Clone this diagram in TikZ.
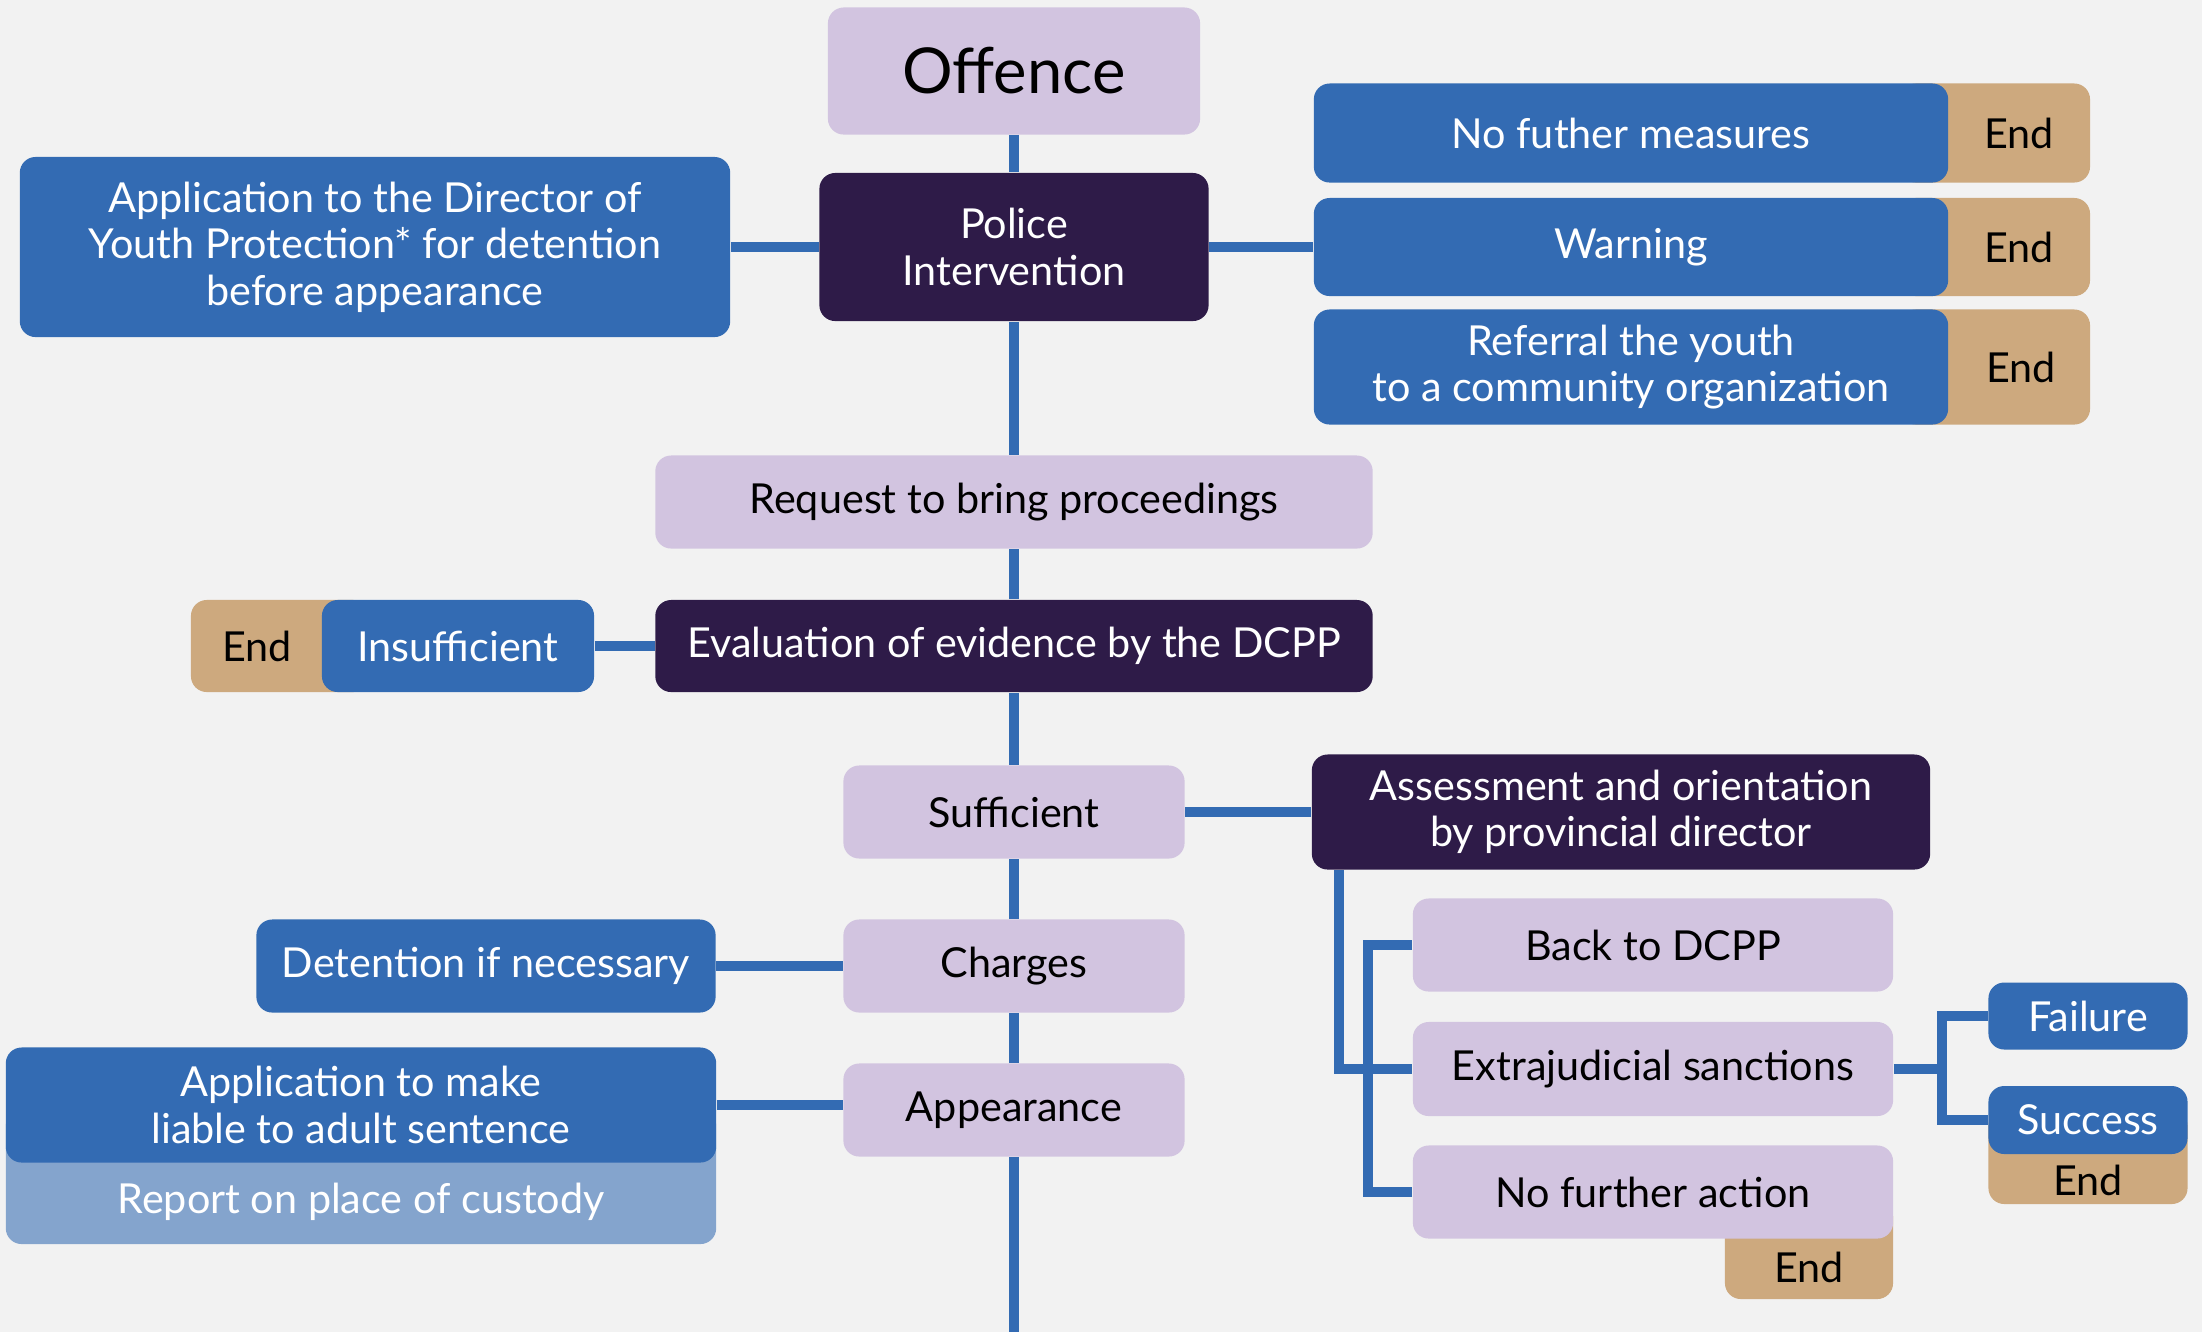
\documentclass[tikz,border=0pt]{standalone}
\usepackage{fontspec}
\setmainfont{Lato}
\begin{document}
\begin{tikzpicture}[
        x=0.01cm,
        y=-0.01cm,
        every node/.style={font=\fontsize{11.75}{13.2}\selectfont},
        mybox/.style={
            rounded corners=4.5pt,
            inner sep=2pt,
            align=center
          },
        mylilac/.style={mybox, fill=lilaccolor, text=black},
        myblue/.style={mybox, fill=bluecolor, text=white},
        mydark/.style={mybox, fill=darkcolor, text=white},
        myend/.style={mybox, fill=tancolor, label={[#1]center:End}},
        myend/.default={},
        myline/.style={draw=bluecolor, line width=2.8pt}]
        % Define colors
        \definecolor{bgcolor}{HTML}{F2F2F2}
        \definecolor{lilaccolor}{HTML}{D2C4E0}
        \definecolor{darkcolor}{HTML}{2E1B48}
        \definecolor{bluecolor}{HTML}{336BB3}
        \definecolor{tancolor}{HTML}{CDA97E}
        \definecolor{palecolor}{HTML}{84A4CD}

        % Draw background
        \useasboundingbox (0,0) rectangle (2202,1332);
        \fill[bgcolor] (0,0) rectangle (2202,1332);
        \coordinate (spineend) at (1014,1332);

        % End tags and the custody report sit behind their boxes
        \node[myend={xshift=0.24cm}, minimum width=1.9cm, minimum height=0.99cm] (nfmend) at (1995,133) {};
        \node[myend={xshift=0.24cm}, minimum width=1.9cm, minimum height=0.98cm] (warnend) at (1995,247) {};
        \node[myend={xshift=0.26cm}, minimum width=1.9cm, minimum height=1.15cm] (referend) at (1995,367) {};
        \node[myend={xshift=-0.23cm}, minimum width=1.78cm, minimum height=0.92cm] (insufend) at (280,646) {};
        \node[myend={yshift=-0.17cm}, minimum width=1.68cm, minimum height=0.98cm] (nfaend) at (1809,1250) {};
        \node[myend={yshift=-0.23cm}, minimum width=1.99cm, minimum height=0.94cm] (succend) at (2088,1157) {};
        \node[mybox, fill=palecolor, minimum width=7.1cm, minimum height=1.34cm,
            label={[text=white, yshift=-0.25cm]center:Report on place of custody}] (custody) at (361,1177) {};

        % Draw main column
        \node[mylilac, minimum width=3.72cm, minimum height=1.27cm, font=\fontsize{18}{21}\selectfont] (offence) at (1014,71) {Offence};
        \node[mydark, minimum width=3.89cm, minimum height=1.48cm] (police) at (1014,247) {Police\\Intervention};
        \node[mylilac, minimum width=7.17cm, minimum height=0.93cm] (request) at (1014,502) {Request to bring proceedings};
        \node[mydark, minimum width=7.17cm, minimum height=0.92cm] (eval) at (1014,646) {Evaluation of evidence by the DCPP};
        \node[mylilac, minimum width=3.41cm, minimum height=0.93cm] (suff) at (1014,812) {Sufficient};
        \node[mylilac, minimum width=3.41cm, minimum height=0.93cm] (charges) at (1014,966) {Charges};
        \node[mylilac, minimum width=3.41cm, minimum height=0.93cm] (appear) at (1014,1110) {Appearance};

        % Draw left side
        \node[myblue, minimum width=7.1cm, minimum height=1.8cm] (director) at (375,247) {Application to the Director of\\Youth Protection* for detention\\before appearance};
        \node[myblue, minimum width=2.72cm, minimum height=0.92cm] (insuf) at (458,646) {Insufficient};
        \node[myblue, minimum width=4.59cm, minimum height=0.93cm] (detent) at (486,966) {Detention if necessary};
        \node[myblue, minimum width=7.1cm, minimum height=1.15cm] (adult) at (361,1105) {Application to make\\liable to adult sentence};

        % Draw right side
        \node[myblue, minimum width=6.34cm, minimum height=0.99cm] (nfm) at (1631,133) {No futher measures};
        \node[myblue, minimum width=6.34cm, minimum height=0.98cm] (warn) at (1631,247) {Warning};
        \node[myblue, minimum width=6.34cm, minimum height=1.15cm] (refer) at (1631,367) {Referral the youth\\to a community organization};
        \node[mydark, minimum width=6.18cm, minimum height=1.15cm] (assess) at (1621,812) {Assessment and orientation\\by provincial director};
        \node[mylilac, minimum width=4.8cm, minimum height=0.93cm] (back) at (1653,945) {Back to DCPP};
        \node[mylilac, minimum width=4.8cm, minimum height=0.94cm] (extra) at (1653,1069) {Extrajudicial sanctions};
        \node[mylilac, minimum width=4.8cm, minimum height=0.93cm] (nfa) at (1653,1192) {No further action};
        \node[myblue, minimum width=1.99cm, minimum height=0.67cm] (fail) at (2088,1016) {Failure};
        \node[myblue, minimum width=1.99cm, minimum height=0.68cm] (succ) at (2088,1120) {Success};

        % Draw connectors
        \draw[myline] (offence) -- (police);
        \draw[myline] (police) -- (request);
        \draw[myline] (request) -- (eval);
        \draw[myline] (eval) -- (suff);
        \draw[myline] (suff) -- (charges);
        \draw[myline] (charges) -- (appear);
        \draw[myline] (appear) -- (spineend);
        \draw[myline] (director) -- (police);
        \draw[myline] (police) -- (warn);
        \draw[myline] (insuf) -- (eval);
        \draw[myline] (suff) -- (assess);
        \draw[myline] (detent) -- (charges);
        \draw[myline] (adult.east) -- (adult.east -| appear.west);
        \draw[myline] ([xshift=0.28cm]assess.south west) |- (extra.west);
        \draw[myline] (back.west) -- ++(-0.44cm,0) |- (nfa.west);
        \draw[myline] (extra.east) -- ++(0.48cm,0) coordinate (fork);
        \draw[myline] (fail.west) -| (fork) |- (succ.west);
    \end{tikzpicture}
\end{document}
